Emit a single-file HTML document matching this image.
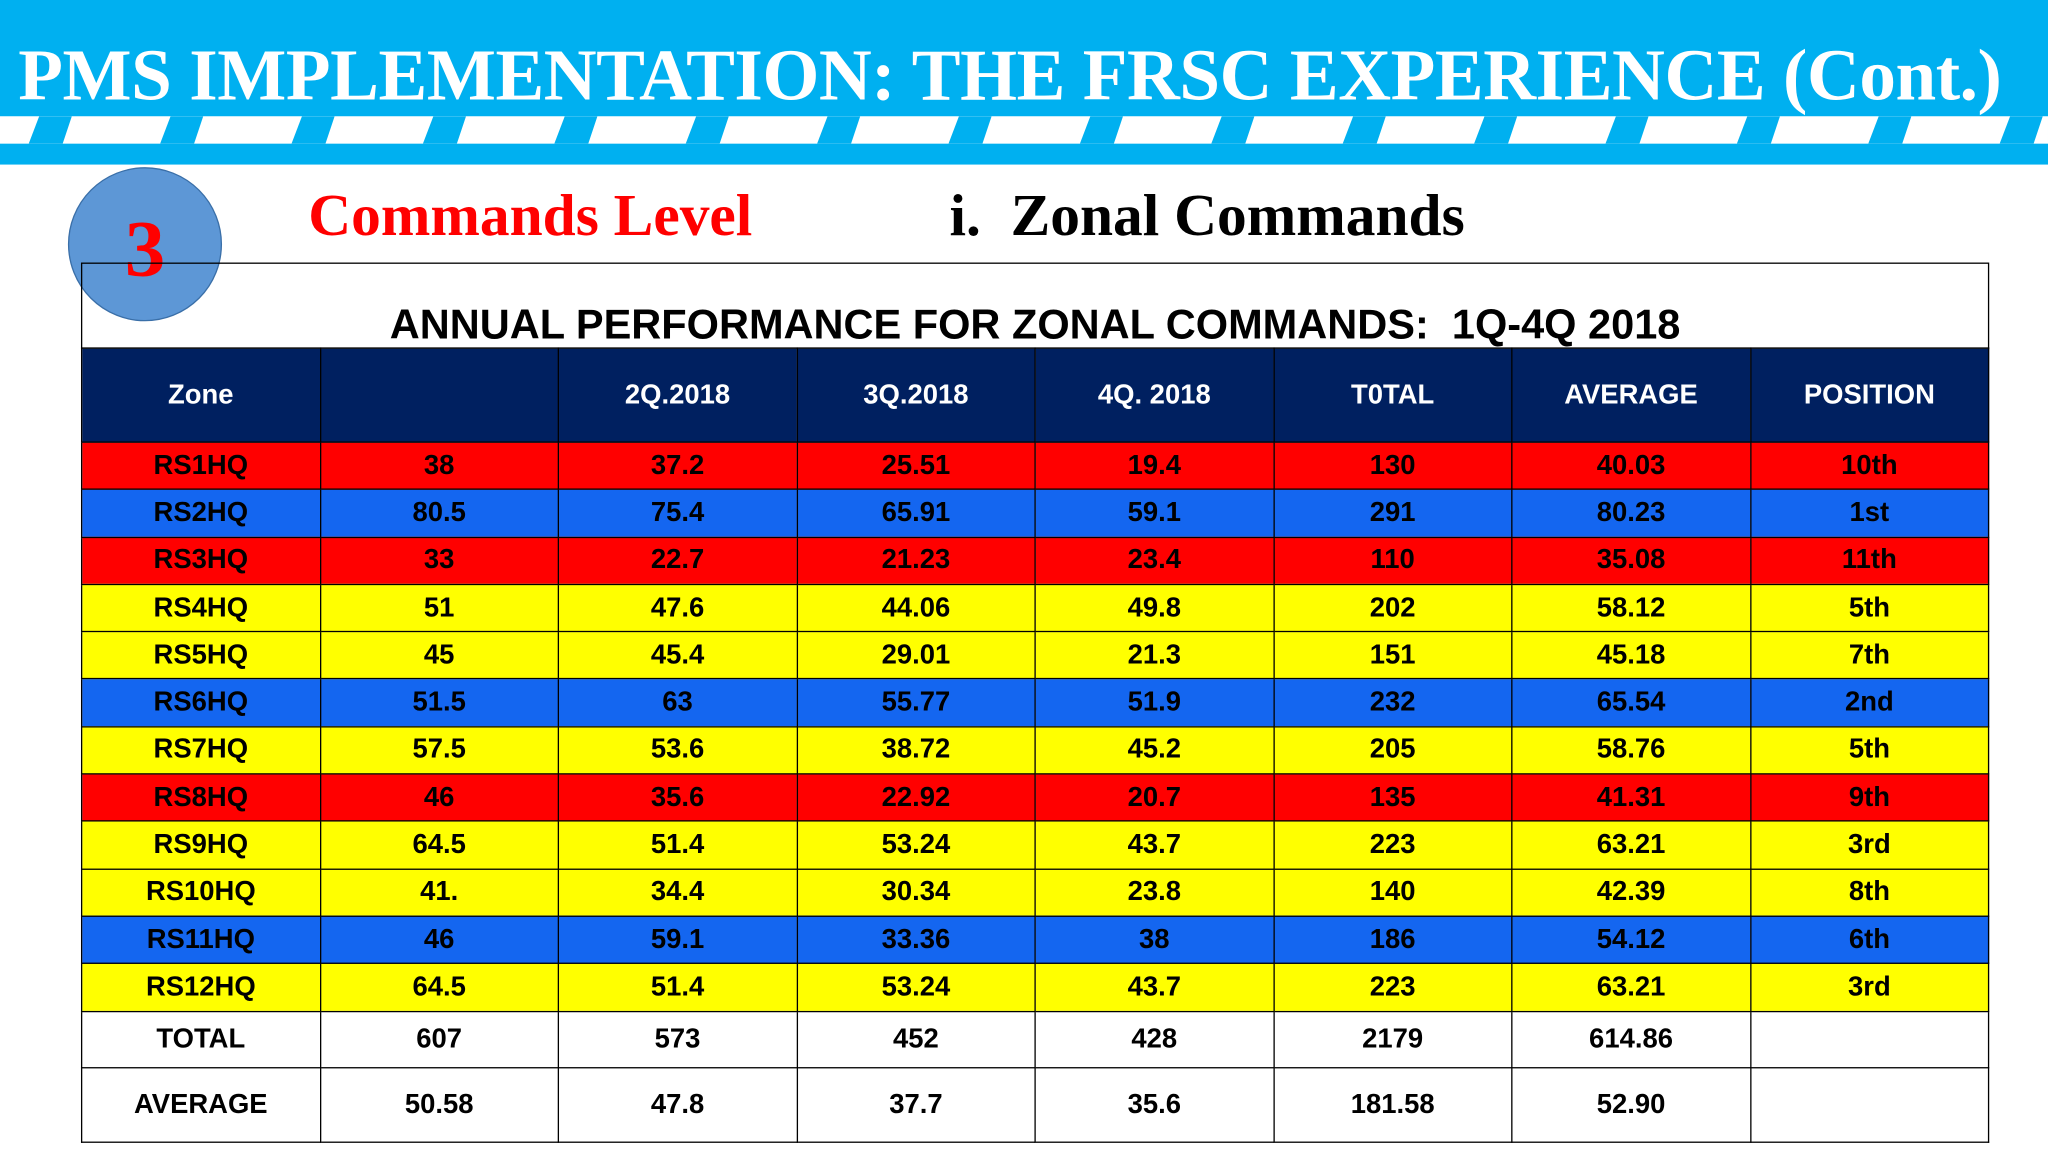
<!DOCTYPE html>
<html><head><meta charset="utf-8"><style>
html,body{margin:0;padding:0;background:#fff;overflow:hidden}
#stage{width:1568px;height:882px;position:relative;transform:scale(1.30612);transform-origin:0 0;font-family:"Liberation Sans",sans-serif}
.hdr{position:absolute;left:0;top:0;width:1568px;height:126px;background:#00b0f0}
.title{position:absolute;left:14px;top:26px;font-family:"Liberation Serif",serif;font-weight:bold;font-size:56px;color:#fff;white-space:nowrap;letter-spacing:-0.33px}
.band{position:absolute;left:0;top:89px;width:1568px;height:21px;background:#fff}
table{position:absolute;left:62px;top:266px;border-collapse:collapse;table-layout:fixed;width:1461px}
td{border:1px solid #000;text-align:center;font-weight:bold;font-size:21px;padding:0;color:#000}
</style></head><body>
<div id="stage">
<div class="hdr"></div>
<div class="band"></div>
<svg style="position:absolute;left:0;top:89px" width="1568" height="21" id="gaps"></svg>
<div class="title">PMS IMPLEMENTATION: THE FRSC EXPERIENCE (Cont.)</div>
<div style="position:absolute;left:236px;top:138px;font-family:'Liberation Serif',serif;font-weight:bold;font-size:45.5px;color:#ff0000">Commands Level</div>
<div style="position:absolute;left:727px;top:138px;font-family:'Liberation Serif',serif;font-weight:bold;font-size:45.5px;color:#000">i.&nbsp; Zonal Commands</div>
<div style="position:absolute;left:52px;top:128px;width:116px;height:116px;border-radius:50%;background:rgba(75,140,210,0.9);border:1px solid #3a6fa8">
<div style="position:absolute;left:0;right:0;top:27px;text-align:center;font-family:'Liberation Serif',serif;font-weight:bold;font-size:62px;color:#ff0000">3</div></div>
<div style="position:absolute;left:62px;top:201px;width:1459px;height:64px;border:1px solid #000;background:transparent">
<div style="position:absolute;left:0;right:0;top:28px;text-align:center;font-weight:bold;font-size:31.8px">ANNUAL PERFORMANCE FOR ZONAL COMMANDS:&nbsp; 1Q-4Q 2018</div></div>
<table id="tbl"></table>
</div>
<script>
const headers=["Zone","","2Q.2018","3Q.2018","4Q. 2018","T0TAL","AVERAGE","POSITION"];
const zones=["RS1HQ","RS2HQ","RS3HQ","RS4HQ","RS5HQ","RS6HQ","RS7HQ","RS8HQ","RS9HQ","RS10HQ","RS11HQ","RS12HQ"];
const q1=["38","80.5","33","51","45","51.5","57.5","46","64.5","41.","46","64.5"];
const q2=["37.2","75.4","22.7","47.6","45.4","63","53.6","35.6","51.4","34.4","59.1","51.4"];
const q3=["25.51","65.91","21.23","44.06","29.01","55.77","38.72","22.92","53.24","30.34","33.36","53.24"];
const q4=["19.4","59.1","23.4","49.8","21.3","51.9","45.2","20.7","43.7","23.8","38","43.7"];
const totals=["130","291","110","202","151","232","205","135","223","140","186","223"];
const avgs=["40.03","80.23","35.08","58.12","45.18","65.54","58.76","41.31","63.21","42.39","54.12","63.21"];
const positions=["10th","1st","11th","5th","7th","2nd","5th","9th","3rd","8th","6th","3rd"];
const colorKeys=["r","b","r","y","y","b","y","r","y","y","b","y"];
const totalRow=["TOTAL","607","573","452","428","2179","614.86",""];
const avgRow=["AVERAGE","50.58","47.8","37.7","35.6","181.58","52.90",""];
const pal={r:"#ff0000",b:"#1466f0",y:"#ffff00"};
const g=document.getElementById('gaps');
for(let x=-30;x<1600;x+=100.6){const p=document.createElementNS('http://www.w3.org/2000/svg','polygon');


p.setAttribute('points',`${x+60},0 ${x+85},0 ${x+78},21 ${x+52},21`);p.setAttribute('fill','#00b0f0');g.appendChild(p);}
const t=document.getElementById('tbl');
function row(cells,h,bg,fg,name){const tr=document.createElement('tr');


tr.style.height=h+'px';tr.style.background=bg;
cells.forEach((c,i)=>{const td=document.createElement('td');


td.textContent=c;td.style.color=fg;tr.appendChild(td);});t.appendChild(tr);}
row(headers,72,"#002060","#fff","header-row");
zones.forEach((z,i)=>row([z,q1[i],q2[i],q3[i],q4[i],totals[i],avgs[i],positions[i]],36.3,pal[colorKeys[i]],"#000","row-"+z.toLowerCase()));
row(totalRow,43,"#fff","#000","total-row");
row(avgRow,57,"#fff","#000","average-row");
</script>
</body></html>
